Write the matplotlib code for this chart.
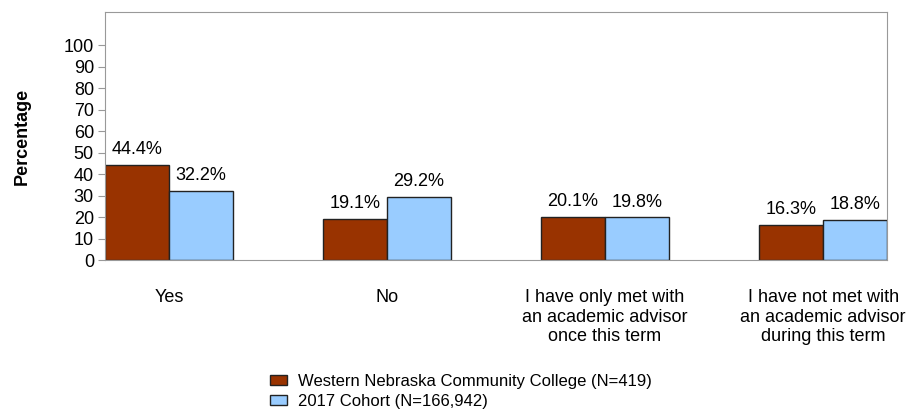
import numpy as np
import matplotlib.pyplot as plt
from matplotlib.patches import Patch

categories = ["Yes", "No",
              "I have only met with\nan academic advisor\nonce this term",
              "I have not met with\nan academic advisor\nduring this term"]
college = [44.4, 19.1, 20.1, 16.3]
cohort = [32.2, 29.2, 19.8, 18.8]
series_names = ["Western Nebraska Community College (N=419)", "2017 Cohort (N=166,942)"]

plt.rcParams['font.family'] = ['Liberation Sans', 'DejaVu Sans']

fig = plt.figure(figsize=(9.08, 4.15), dpi=100)
ax = fig.add_axes([105/908, 1-260/415, 782/908, 248/415])

x = np.arange(len(categories))
w = 0.293
b1 = ax.bar(x - w/2, college, w, color="#993300", edgecolor="#222222", linewidth=1)
b2 = ax.bar(x + w/2, cohort, w, color="#99ccff", edgecolor="#222222", linewidth=1)

# value labels above the bars
for bars, vals in ((b1, college), (b2, cohort)):
    for r, v in zip(bars, vals):
        ax.text(r.get_x() + r.get_width()/2, v + 7.2, f"{v}%", ha="center", va="center", fontsize=13)

ax.set_xlim(-0.293, 3.293)
ax.set_ylim(0, 115.5)
ax.set_yticks(range(0, 101, 10))
ax.tick_params(axis='y', labelsize=13, color="#999999", length=5, pad=3)
ax.tick_params(axis='x', length=0, labelsize=13, pad=21)
ax.set_xticks(x)
ax.set_xticklabels(categories, linespacing=1.2)
for s in ax.spines.values():
    s.set_color("#999999")
ax.set_ylabel("Percentage", fontsize=13, fontweight="bold", labelpad=24)

handles = [Patch(facecolor="#993300", edgecolor="#222222"),
           Patch(facecolor="#99ccff", edgecolor="#222222")]
fig.legend(handles, series_names, loc="upper left", bbox_to_anchor=(270/908, 1-374/415),
           frameon=False, fontsize=12, handlelength=1.0, handleheight=0.5,
           handletextpad=0.65, labelspacing=0.3, borderaxespad=0, borderpad=0)

fig.savefig("out.png", dpi=100)
